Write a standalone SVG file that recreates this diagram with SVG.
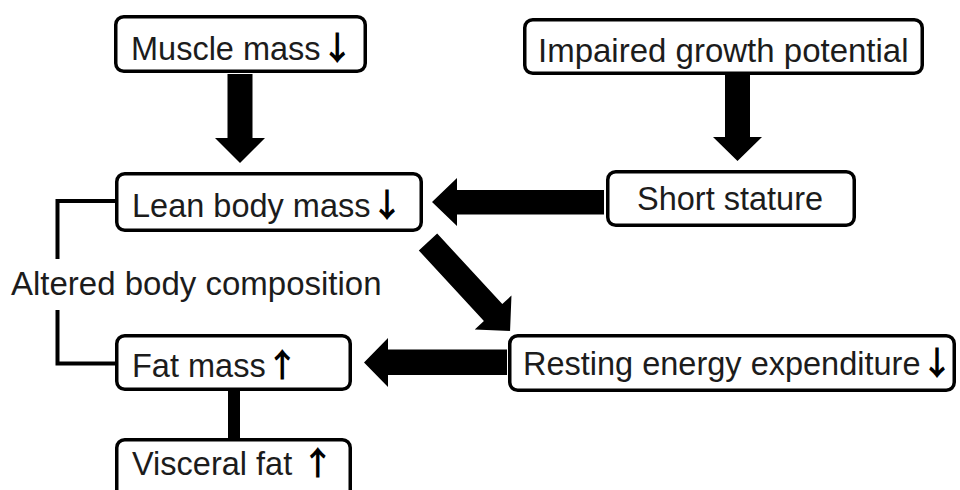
<svg xmlns="http://www.w3.org/2000/svg" width="960" height="490" viewBox="0 0 960 490">
  <style>
    .box { fill: #ffffff; stroke: #000000; stroke-width: 3.5; }
    .lbl { font-family: "Liberation Sans", Arial, "Noto Sans CJK JP", sans-serif; font-size: 32.5px; fill: #1c1c1c; }
    .big { font-size: 33px; }
    .arw { font-family: "Noto Sans CJK JP", sans-serif; font-size: 33px; font-weight: bold; fill: #000000; }
    .blk { fill: #000000; stroke: none; }
    .line { fill: none; stroke: #000000; stroke-width: 4; }
  </style>
  <rect width="960" height="490" fill="#ffffff"/>
  <g id="connectors">
    <polygon class="blk" points="227.5,74 252.5,74 252.5,138 265,138 240,163 215,138 227.5,138"/>
    <polygon class="blk" points="725,75 750,75 750,137 762,137 737.5,161 713,137 725,137"/>
    <polygon class="blk" points="604,190 457,190 457,178 432,202 457,226 457,214.5 604,214.5"/>
    <polygon class="blk" points="507,349.5 388,349.5 388,338 364,362.5 388,387 388,375 507,375"/>
    <polygon class="blk" transform="translate(428,242) rotate(47.3)" points="0,-12.5 96,-12.5 96,-25 121,0 96,25 96,12.5 0,12.5"/>
    <rect class="blk" x="228" y="390" width="12" height="49"/>
    <path class="line" d="M115,201 H57.5 V259"/>
    <path class="line" d="M57.5,310 V363.5 H115"/>
  </g>
  <g id="muscle-mass">
    <rect class="box" x="115.75" y="16.75" width="249.5" height="54.5" rx="8"/>
    <text class="lbl" x="131" y="60">Muscle mass<tspan class="arw">↓</tspan></text>
  </g>
  <g id="impaired-growth">
    <rect class="box" x="524.75" y="19.75" width="397.5" height="53.5" rx="8"/>
    <text class="lbl big" x="538" y="62">Impaired growth potential</text>
  </g>
  <g id="lean-body-mass">
    <rect class="box" x="116.75" y="173.75" width="304.5" height="56.5" rx="8"/>
    <text class="lbl" x="132" y="217">Lean body mass<tspan class="arw">↓</tspan></text>
  </g>
  <g id="short-stature">
    <rect class="box" x="607.75" y="171.75" width="246.5" height="53.5" rx="8"/>
    <text class="lbl" x="637" y="210">Short stature</text>
  </g>
  <g id="altered-body-composition">
    <text class="lbl big" x="11" y="295">Altered body composition</text>
  </g>
  <g id="fat-mass">
    <rect class="box" x="116.75" y="335.75" width="233.5" height="53.5" rx="8"/>
    <text class="lbl" x="132" y="377">Fat mass<tspan class="arw">↑</tspan></text>
  </g>
  <g id="resting-energy">
    <rect class="box" x="509.75" y="335.75" width="444.5" height="54.5" rx="8"/>
    <text class="lbl" x="523" y="375">Resting energy expenditure<tspan class="arw">↓</tspan></text>
  </g>
  <g id="visceral-fat">
    <rect class="box" x="116.75" y="439.75" width="233.5" height="70" rx="8"/>
    <text class="lbl" x="132" y="475">Visceral fat <tspan class="arw">↑</tspan></text>
  </g>
</svg>
